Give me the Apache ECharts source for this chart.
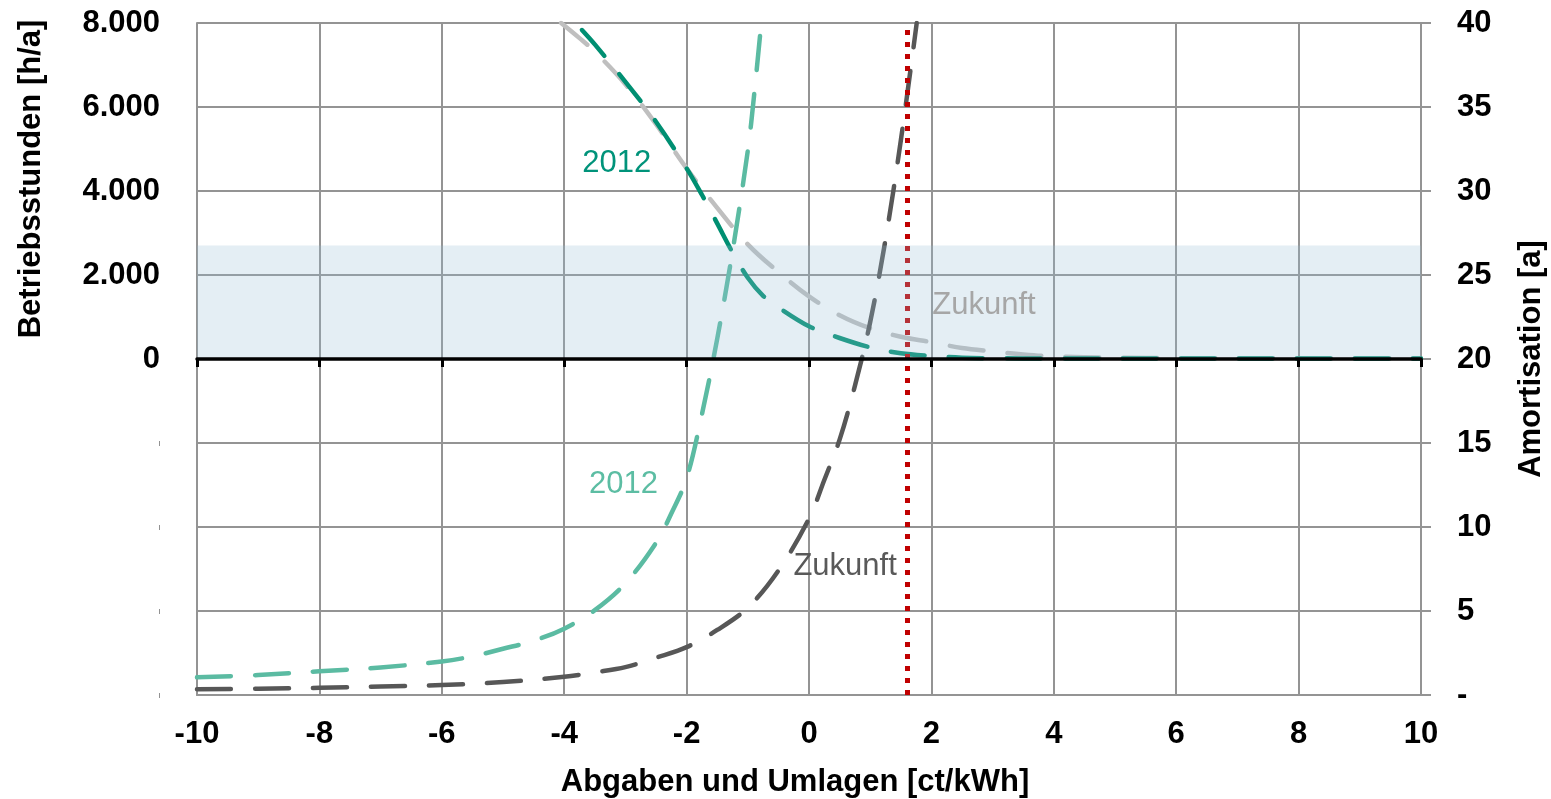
<!DOCTYPE html>
<html><head><meta charset="utf-8">
<script src="https://cdn.jsdelivr.net/npm/echarts@6/dist/echarts.min.js"></script>
<style>html,body{margin:0;padding:0;background:#fff}#c{width:1551px;height:799px}</style>
</head><body><div id="c"></div>
<script>
// ---- data ----
// Betriebsstunden [h/a], left axis
const zukunftBetrX = [-4.05,-3.75,-3.5,-3.0,-2.5,-2.0,-1.5,-1.0,-0.5,0,0.5,1.0,1.5,2.0,2.5,3.0,3.5,4.0,5,6,8,10];
const zukunftBetrY = [8000,7640,7320,6540,5590,4540,3600,2730,2070,1490,1040,730,530,400,262,180,108,60,30,20,15,12];
const betr2012X = [-3.71,-3.5,-3.0,-2.5,-2.0,-1.75,-1.5,-1.25,-1.0,-0.75,-0.5,0,0.5,1.0,1.5,2.0,2.5,3,4,6,8,10];
const betr2012Y = [7833,7490,6600,5650,4540,3910,3230,2540,1935,1505,1230,780,500,278,135,72,30,18,12,10,10,10];
// Amortisation [a], right axis
const amort2012X = [-10,-9,-8,-7,-6,-5.5,-5,-4.5,-4,-3.5,-3.0,-2.5,-2.25,-2.0,-1.75,-1.5,-1.25,-1.0,-0.9,-0.78];
const amort2012Y = [1.05,1.19,1.41,1.64,2.0,2.3,2.75,3.23,3.95,5.05,6.65,9.05,10.8,12.9,16.7,21.2,26.4,32.4,35.6,40];
const amortZukunftX = [-10,-9,-8,-7,-6,-5,-4,-3.5,-3,-2.5,-2,-1.5,-1.0,-0.5,0,0.25,0.5,0.75,1.0,1.25,1.5,1.76];
const amortZukunftY = [0.34,0.37,0.43,0.5,0.59,0.77,1.08,1.35,1.66,2.22,2.85,3.87,5.2,7.4,10.5,12.8,15.2,18.4,22.2,27.1,33.0,40];
// shaded band (Betriebsstunden range) and break-even marker
const bandTop = 2700;
const breakEven = 1.6;
// curve labels [x, value, text]
const leftLabels = [[-3.14, 4667, '2012'], [2.86, 1286, 'Zukunft']];
const rightLabels = [[-3.03, 12.52, '2012'], [0.59, 7.68, 'Zukunft']];
// tick settings
const xMin = -10, xMax = 10, xStep = 2;
const leftMin = -8000, leftMax = 8000, leftStep = 2000;
const rightMin = 0, rightMax = 40, rightStep = 5;

const zip = (xs, ys) => xs.map((x, i) => [x, ys[i]]);
const FONT = '"Liberation Sans", Arial, Helvetica, sans-serif';
const GRID = '#949494';
const dots = v => String(v).replace(/\B(?=(\d{3})+(?!\d))/g, '.');

const dash = (color) => ({color: color, width: 4.5, type: [34, 24], cap: 'round', join: 'round'});

const chart = echarts.init(document.getElementById('c'), null, {renderer: 'canvas'});
chart.setOption({
  animation: false,
  backgroundColor: '#fff',
  grid: {left: 197, right: 130, top: 23, bottom: 104, containLabel: false, outerBoundsMode: 'none'},
  xAxis: [
    {type: 'value', min: xMin, max: xMax, interval: xStep, position: 'bottom',
     axisLine: {show: true, onZero: false, lineStyle: {color: GRID, width: 2}},
     axisTick: {show: false},
     axisLabel: {margin: 24, fontSize: 31, fontWeight: 'bold', color: '#000', fontFamily: FONT},
     splitLine: {show: true, lineStyle: {color: GRID, width: 2}}},
    {type: 'value', min: xMin, max: xMax, interval: xStep, position: 'bottom', z: 20,
     axisLine: {show: true, onZero: true, onZeroAxisIndex: 0, lineStyle: {color: '#000', width: 3.5}},
     axisTick: {show: true, inside: false, length: 8, lineStyle: {color: '#000', width: 3}},
     axisLabel: {show: false},
     splitLine: {show: false}}
  ],
  yAxis: [
    {type: 'value', min: leftMin, max: leftMax, interval: leftStep, position: 'left',
     axisLine: {show: true, onZero: false, lineStyle: {color: GRID, width: 2}},
     axisTick: {show: false},
     axisLabel: {margin: 37, fontSize: 31, fontWeight: 'bold', color: '#000', fontFamily: FONT,
       formatter: v => v >= 0 ? dots(v) : '{t||}',
       rich: {t: {fontSize: 6, fontWeight: 'normal', color: '#222', fontFamily: FONT}}},
     splitLine: {show: true, lineStyle: {color: GRID, width: 2}}},
    {type: 'value', min: rightMin, max: rightMax, interval: rightStep, position: 'right',
     axisLine: {show: true, onZero: false, lineStyle: {color: GRID, width: 2}},
     axisTick: {show: true, inside: false, length: 10, lineStyle: {color: GRID, width: 2}},
     axisLabel: {margin: 36, fontSize: 31, fontWeight: 'bold', color: '#000', fontFamily: FONT,
       formatter: v => v === 0 ? '-' : String(v)},
     splitLine: {show: false}}
  ],
  series: [
    {name: 'Zukunft Betriebsstunden', type: 'line', xAxisIndex: 0, yAxisIndex: 0,
     data: zip(zukunftBetrX, zukunftBetrY), smooth: 0.35, symbol: 'none', z: 2,
     lineStyle: dash('#bfbfbf')},
    {name: '2012 Betriebsstunden', type: 'line', xAxisIndex: 0, yAxisIndex: 0,
     data: zip(betr2012X, betr2012Y), smooth: 0.35, symbol: 'none', z: 3,
     lineStyle: dash('#008f72')},
    {name: '2012 Amortisation', type: 'line', xAxisIndex: 0, yAxisIndex: 1,
     data: zip(amort2012X, amort2012Y), smooth: 0.35, symbol: 'none', z: 3,
     lineStyle: dash('#5bbba2')},
    {name: 'Zukunft Amortisation', type: 'line', xAxisIndex: 0, yAxisIndex: 1,
     data: zip(amortZukunftX, amortZukunftY), smooth: 0.35, symbol: 'none', z: 3,
     lineStyle: dash('#575757'),
     markLine: {silent: true, symbol: ['none', 'none'], label: {show: false},
       lineStyle: {color: '#c00000', width: 5, type: [5, 7], cap: 'butt'},
       emphasis: {disabled: true},
       data: [{xAxis: breakEven}]}},
    {name: 'Band', type: 'line', xAxisIndex: 0, yAxisIndex: 0, z: 10, silent: true,
     data: [[xMin, bandTop], [xMax, bandTop]], symbol: 'none',
     lineStyle: {width: 0, opacity: 0},
     areaStyle: {color: 'rgba(150,190,212,0.26)', opacity: 1}},
    {name: 'LabelsLeft', type: 'scatter', xAxisIndex: 0, yAxisIndex: 0, z: 12, silent: true,
     symbolSize: 0, itemStyle: {opacity: 1},
     data: leftLabels.map((d, i) => ({value: [d[0], d[1]], name: d[2],
       label: {color: i === 0 ? '#00937a' : '#a6a6a6'}})),
     label: {show: true, position: 'inside', formatter: p => p.name, fontSize: 31, fontFamily: FONT}},
    {name: 'LabelsRight', type: 'scatter', xAxisIndex: 0, yAxisIndex: 1, z: 12, silent: true,
     symbolSize: 0, itemStyle: {opacity: 1},
     data: rightLabels.map((d, i) => ({value: [d[0], d[1]], name: d[2],
       label: {color: i === 0 ? '#5cbda3' : '#595959'}})),
     label: {show: true, position: 'inside', formatter: p => p.name, fontSize: 31, fontFamily: FONT}}
  ],
  graphic: [
    {type: 'text', x: 31, y: 179, rotation: Math.PI / 2, silent: true,
     style: {text: 'Betriebsstunden [h/a]', fill: '#000', font: 'bold 31px ' + FONT, textAlign: 'center', textVerticalAlign: 'middle'}},
    {type: 'text', x: 1531, y: 359, rotation: Math.PI / 2, silent: true,
     style: {text: 'Amortisation [a]', fill: '#000', font: 'bold 31px ' + FONT, textAlign: 'center', textVerticalAlign: 'middle'}},
    {type: 'text', x: 795, y: 782, silent: true,
     style: {text: 'Abgaben und Umlagen [ct/kWh]', fill: '#000', font: 'bold 31px ' + FONT, textAlign: 'center', textVerticalAlign: 'middle'}}
  ]
});
</script></body></html>
